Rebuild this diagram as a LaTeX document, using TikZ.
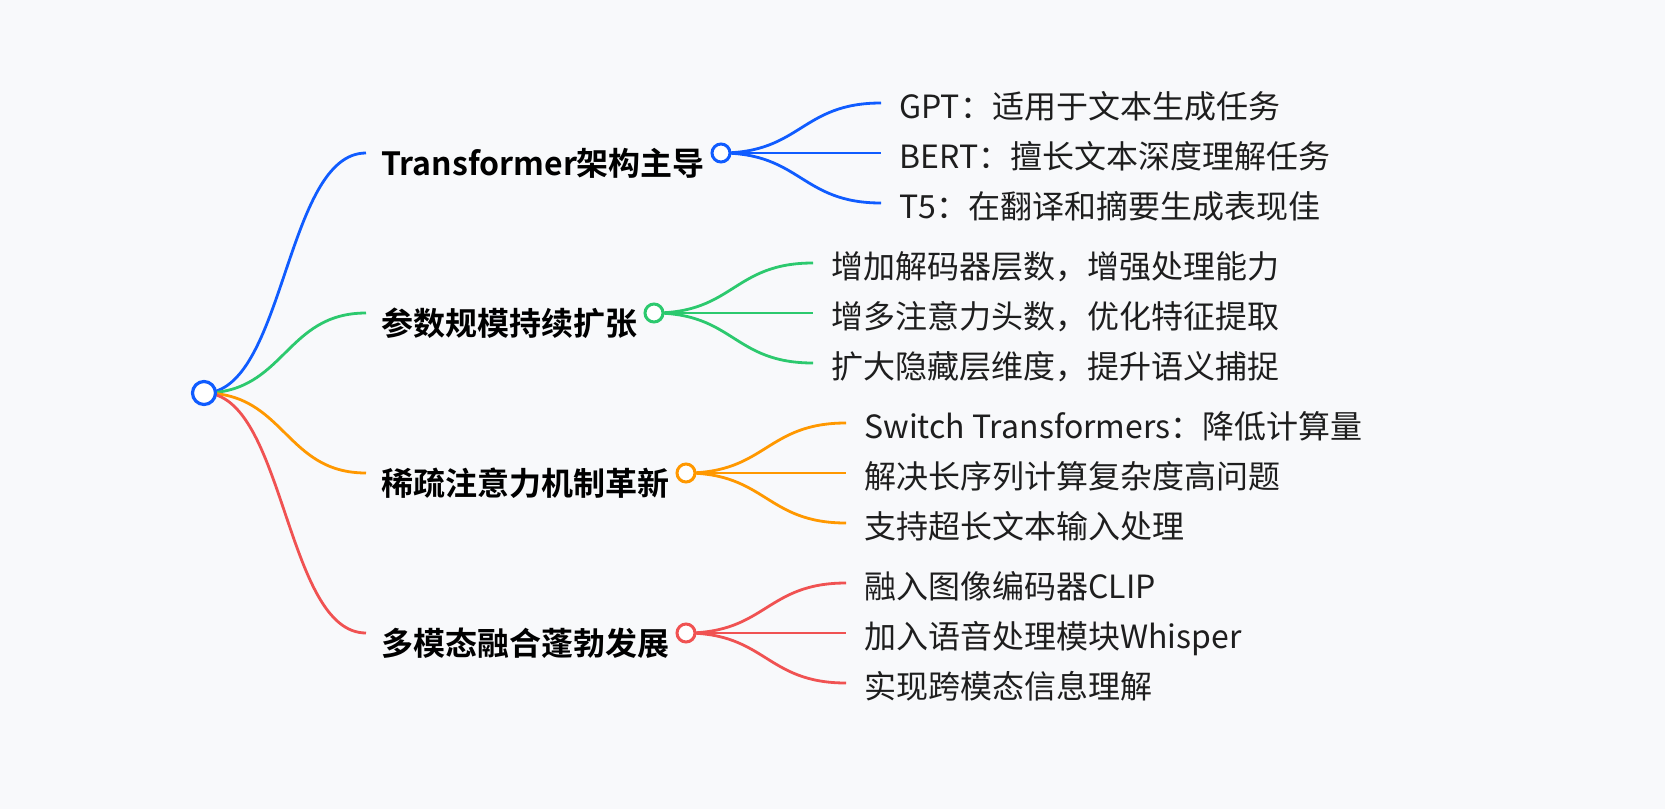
\documentclass[tikz,border=0pt]{standalone}
\usepackage{fontspec}
\setmainfont{Noto Sans CJK SC}[BoldFont={Noto Sans CJK SC Bold}]
\usetikzlibrary{backgrounds}
\definecolor{paper}{RGB}{248,249,251}
\definecolor{azure}{RGB}{16,92,255}
\definecolor{jade}{RGB}{44,201,110}
\definecolor{tangerine}{RGB}{255,152,0}
\definecolor{coral}{RGB}{240,82,82}
\definecolor{ink}{RGB}{30,30,30}
\tikzset{
  hub/.style={circle,draw=#1,fill=white,line width=1.6pt,minimum size=11.5pt,inner sep=0pt},
  hub/.default=azure,
  knot/.style={circle,draw=#1,fill=white,line width=1.5pt,minimum size=9pt,inner sep=0pt},
  knot/.default=azure,
  topic/.style={anchor=west,inner xsep=7.5pt,inner ysep=0pt,text=black,
    font=\fontsize{16}{16}\selectfont\bfseries,text height=24pt,text depth=2pt},
  twig/.style={anchor=west,inner xsep=9pt,inner ysep=0pt,text=ink,
    font=\fontsize{16}{16}\selectfont,text height=17.6pt,text depth=2.4pt},
  branch/.style={draw=#1,line width=1.4pt},
  branch/.default=azure,
}

\begin{document}
\begin{tikzpicture}[x=0.5pt,y=-0.5pt]
  \useasboundingbox (0,0) rectangle (1665,809);
  % root and the four topics
  \node[hub] (root) at (204,393) {};
  \node[topic] (tf) at (366,153) {Transformer架构主导};
  \node[topic] (scale) at (366,313) {参数规模持续扩张};
  \node[topic] (sparse) at (366,473) {稀疏注意力机制革新};
  \node[topic] (multi) at (366,633) {多模态融合蓬勃发展};
  \node[knot=azure] (tf dot) at (721,153) {};
  \node[knot=jade] (scale dot) at (654,313) {};
  \node[knot=tangerine] (sparse dot) at (686,473) {};
  \node[knot=coral] (multi dot) at (686,633) {};
  % leaves
  \node[twig] (gpt) at (881,103) {GPT：适用于文本生成任务};
  \node[twig] (bert) at (881,153) {BERT：擅长文本深度理解任务};
  \node[twig] (tfive) at (881,203) {T5：在翻译和摘要生成表现佳};
  \node[twig] (layers) at (813,263) {增加解码器层数，增强处理能力};
  \node[twig] (heads) at (813,313) {增多注意力头数，优化特征提取};
  \node[twig] (hidden) at (813,363) {扩大隐藏层维度，提升语义捕捉};
  \node[twig] (switch) at (846,423) {Switch Transformers：降低计算量};
  \node[twig] (longseq) at (846,473) {解决长序列计算复杂度高问题};
  \node[twig] (longtext) at (846,523) {支持超长文本输入处理};
  \node[twig] (clip) at (846,583) {融入图像编码器CLIP};
  \node[twig] (whisper) at (846,633) {加入语音处理模块Whisper};
  \node[twig] (cross) at (846,683) {实现跨模态信息理解};
  % links, behind the circles
  \begin{scope}[on background layer]
    \fill[paper] (0,0) rectangle (1665,809);
    \draw[branch=azure] (root.center) .. controls +(81,0) and +(-81,0) .. (tf.west);
    \draw[branch=jade] (root.center) .. controls +(81,0) and +(-81,0) .. (scale.west);
    \draw[branch=tangerine] (root.center) .. controls +(81,0) and +(-81,0) .. (sparse.west);
    \draw[branch=coral] (root.center) .. controls +(81,0) and +(-81,0) .. (multi.west);
    \foreach \c in {gpt,bert,tfive}
      \draw[branch=azure] (tf dot.center) .. controls +(80,0) and +(-80,0) .. (\c.west);
    \foreach \c in {layers,heads,hidden}
      \draw[branch=jade] (scale dot.center) .. controls +(80,0) and +(-80,0) .. (\c.west);
    \foreach \c in {switch,longseq,longtext}
      \draw[branch=tangerine] (sparse dot.center) .. controls +(80,0) and +(-80,0) .. (\c.west);
    \foreach \c in {clip,whisper,cross}
      \draw[branch=coral] (multi dot.center) .. controls +(80,0) and +(-80,0) .. (\c.west);
  \end{scope}
\end{tikzpicture}
\end{document}
